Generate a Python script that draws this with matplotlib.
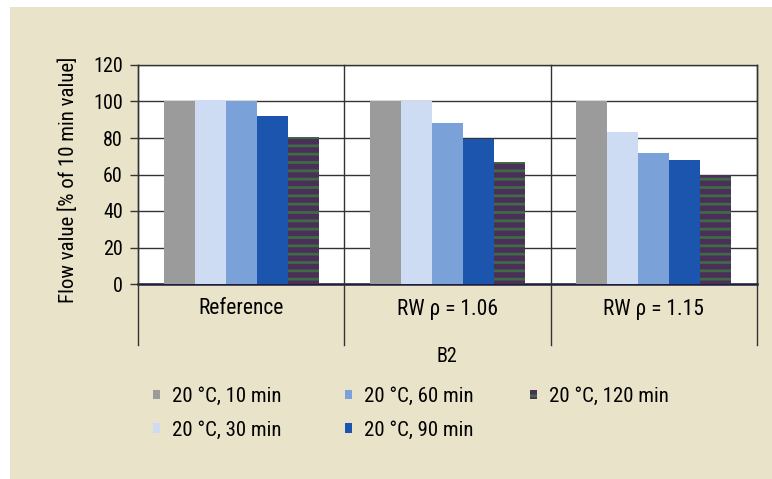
import matplotlib
matplotlib.use("Agg")
import matplotlib.pyplot as plt
import matplotlib.transforms as mtransforms
from matplotlib.patches import Rectangle
import numpy as np

categories = ["Reference", "RW \u03c1 = 1.06", "RW \u03c1 = 1.15"]
series_labels = ["20 \u00b0C, 10 min", "20 \u00b0C, 30 min", "20 \u00b0C, 60 min",
                 "20 \u00b0C, 90 min", "20 \u00b0C, 120 min"]
v_10 = [100, 100, 100]
v_30 = [101, 100, 83.5]
v_60 = [100, 88, 72]
v_90 = [92, 79.5, 68]
v_120 = [80.5, 67, 59.5]
yticks = [0, 20, 40, 60, 80, 100, 120]
xgroup_label = "B2"
ylabel = "Flow value [% of 10 min value]"

series = [v_10, v_30, v_60, v_90, v_120]
colors = ["#9b9b9b", "#cddcf3", "#7aa1d8", "#1c55ad", "#4a2f58"]

plt.rcParams['font.family'] = ["Roboto Condensed", "DejaVu Sans"]
plt.rcParams['hatch.linewidth'] = 2.0

W, H = 772, 479
fig = plt.figure(figsize=(W / 100, H / 100), dpi=100)
fig.patch.set_facecolor("white")
fig.patches.append(Rectangle((10 / W, 0), 1 - 10 / W, 1 - 7 / H,
                             transform=fig.transFigure, facecolor="#E9E4C9",
                             edgecolor="none", zorder=-10))

L, R, T, B = 138, 757, 65, 284
ax = fig.add_axes([L / W, 1 - B / H, (R - L) / W, (B - T) / H])
ax.set_facecolor("white")

x = np.arange(len(categories))
bw = 0.15
bars = []
for i, (vals, c, lab) in enumerate(zip(series, colors, series_labels)):
    kw = {}
    if i == 4:
        kw = dict(hatch="--", edgecolor="#3f6a45", linewidth=0)
    bars.append(ax.bar(x + (i - 2) * bw, vals, width=bw, color=c, label=lab,
                       zorder=3, **kw))

ax.set_xlim(-0.5, len(categories) - 0.5)
ax.set_ylim(0, 120)
ax.set_yticks(yticks)
ax.set_yticklabels([str(t) for t in yticks], fontsize=14.5)
ax.tick_params(axis="y", length=6, width=1, color="#333333", pad=5)
ax.set_xticks([])
ax.yaxis.grid(True, color="#333333", linewidth=1)
ax.set_axisbelow(True)
for s in ["top", "left", "right"]:
    ax.spines[s].set_color("#333333")
    ax.spines[s].set_linewidth(1)
ax.spines["bottom"].set_color("#1e1e3c")
ax.spines["bottom"].set_linewidth(1.8)

trans = mtransforms.blended_transform_factory(ax.transData, ax.transAxes)
ylow = (B - 345) / (B - T)
for xb in np.arange(-0.5, len(categories), 1.0):
    ax.plot([xb, xb], [ylow, 1], transform=trans, color="#333333",
            linewidth=1, clip_on=False, zorder=4)
ycat = (B - 309) / (B - T)
for xi, c in zip(x, categories):
    ax.text(xi, ycat, c, transform=trans, ha="center", va="center", fontsize=15.5)

fig.text(447 / W, 1 - 357 / H, xgroup_label, ha="center", va="center", fontsize=14.5)
fig.text(68 / W, 1 - 180 / H, ylabel, rotation=90, ha="center", va="center", fontsize=15)

# legend: three columns (10/30, 60/90, 120)
col_groups = [[0, 1], [2, 3], [4]]
col_x = [153, 345, 530]
for grp, cx in zip(col_groups, col_x):
    fig.legend([bars[k] for k in grp], [series_labels[k] for k in grp],
               loc="upper left", bbox_to_anchor=(cx / W, 1 - 387 / H),
               frameon=False, fontsize=15, handlelength=0.35,
               handleheight=0.35, handletextpad=0.55, labelspacing=0.7,
               borderaxespad=0, borderpad=0)

fig.savefig("out.png", dpi=100)
